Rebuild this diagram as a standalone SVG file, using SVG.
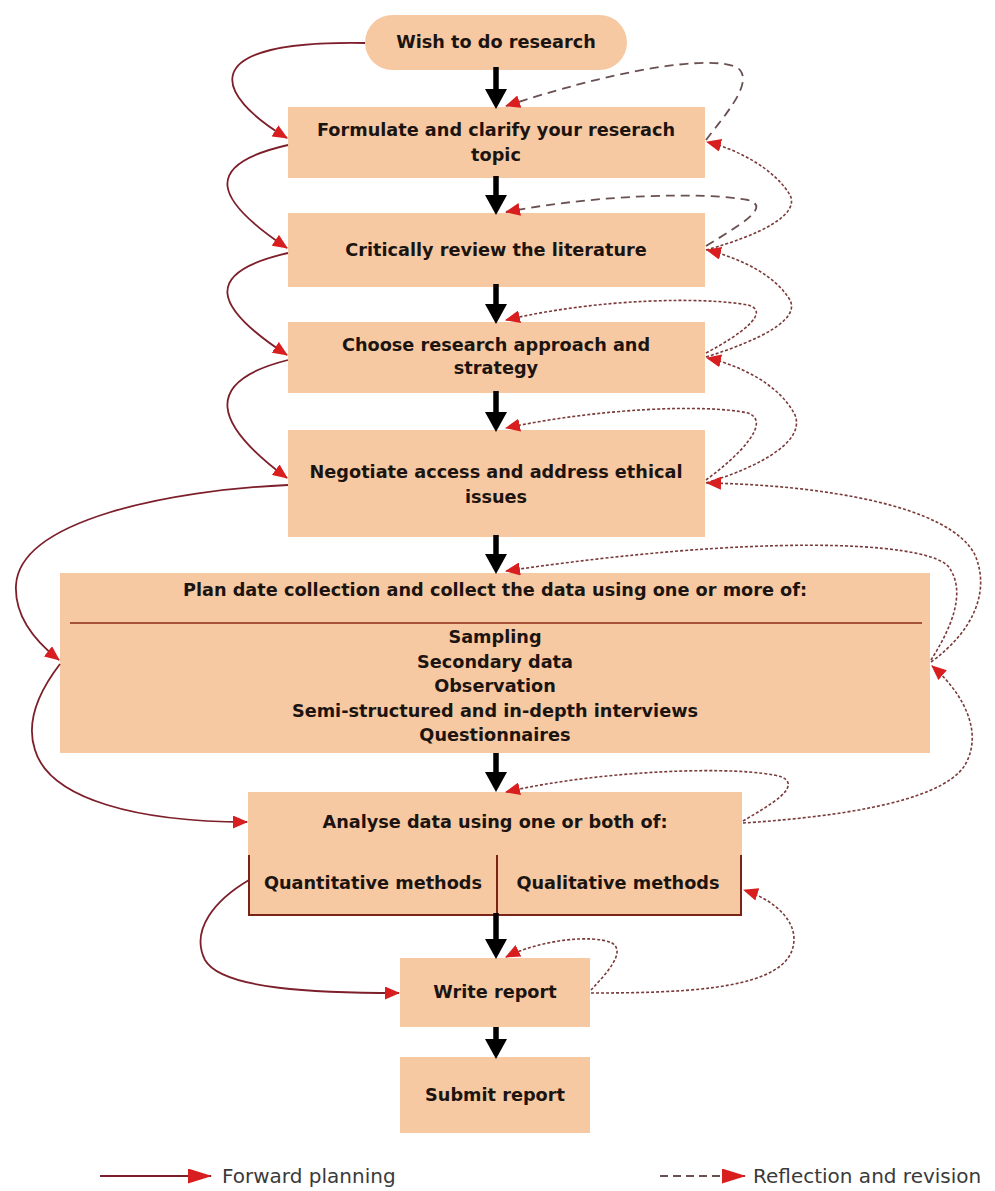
<svg xmlns="http://www.w3.org/2000/svg" width="995" height="1191" viewBox="0 0 995 1191">
<style>
.box{fill:#F7C9A2}
.t{font-family:"DejaVu Sans",Verdana,sans-serif;font-weight:bold;font-size:17.7px;fill:#1c1410;text-anchor:middle}
.lg{font-family:"DejaVu Sans",Verdana,sans-serif;font-size:20px;fill:#3a3a3a}
.brd{stroke:#7a2418;stroke-width:2;fill:none}
.main{stroke:#000;stroke-width:5.5;fill:none;marker-end:url(#blk)}
.fwd{stroke:#7d1f2a;stroke-width:1.8;fill:none;marker-end:url(#red)}
.ref{stroke:#7a3a3a;stroke-width:1.6;fill:none;stroke-dasharray:3 2;marker-end:url(#red)}
.refl{stroke:#6a5050;stroke-width:1.8;fill:none;stroke-dasharray:9 6;marker-end:url(#red)}
</style>
<defs>
<marker id="blk" markerUnits="userSpaceOnUse" markerWidth="22" markerHeight="22" viewBox="0 0 20 22" refX="6" refY="11" orient="auto"><path d="M0,0 L20,11 L0,22 z" fill="#000"/></marker>
<marker id="red" markerUnits="userSpaceOnUse" markerWidth="15" markerHeight="13" viewBox="0 0 15 13" refX="14" refY="6.5" orient="auto"><path d="M0,0 L15,6.5 L0,13 z" fill="#d81e1e"/></marker>
<marker id="redL" markerUnits="userSpaceOnUse" markerWidth="24" markerHeight="15" viewBox="0 0 24 15" refX="23" refY="7.5" orient="auto"><path d="M0,0 L24,7.5 L0,15 z" fill="#d81e1e"/></marker>
</defs>
<rect width="995" height="1191" fill="#fff"/>

<g id="n-wish"><rect class="box" x="365" y="15" width="262" height="55" rx="27.5"/><text class="t" x="496" y="48">Wish to do research</text></g>
<g id="n-formulate"><rect class="box" x="288" y="107" width="417" height="71"/><text class="t" x="496" y="136">Formulate and clarify your reserach</text><text class="t" x="496" y="161">topic</text></g>
<g id="n-review"><rect class="box" x="288" y="213" width="417" height="74"/><text class="t" x="496" y="256">Critically review the literature</text></g>
<g id="n-approach"><rect class="box" x="288" y="322" width="417" height="71"/><text class="t" x="496" y="351">Choose research approach and</text><text class="t" x="496" y="374">strategy</text></g>
<g id="n-negotiate"><rect class="box" x="288" y="430" width="417" height="107"/><text class="t" x="496" y="478">Negotiate access and address ethical</text><text class="t" x="496" y="503">issues</text></g>
<g id="n-collect"><rect class="box" x="60" y="573" width="870" height="180"/><text class="t" x="495" y="596">Plan date collection and collect the data using one or more of:</text><line x1="70" y1="623" x2="922" y2="623" stroke="#8a2a14" stroke-width="1.6"/><text class="t" x="495" y="643">Sampling</text><text class="t" x="495" y="668">Secondary data</text><text class="t" x="495" y="692">Observation</text><text class="t" x="495" y="717">Semi-structured and in-depth interviews</text><text class="t" x="495" y="741">Questionnaires</text></g>
<g id="n-analyse"><rect class="box" x="248" y="792" width="494" height="123"/><text class="t" x="495" y="828">Analyse data using one or both of:</text><path class="brd" d="M249,855 V915 H741 V855 M497,855 V915"/><text class="t" x="373" y="889">Quantitative methods</text><text class="t" x="618" y="889">Qualitative methods</text></g>
<g id="n-write"><rect class="box" x="400" y="958" width="190" height="69"/><text class="t" x="495" y="998">Write report</text></g>
<g id="n-submit"><rect class="box" x="400" y="1057" width="190" height="76"/><text class="t" x="495" y="1101">Submit report</text></g>

<g id="connectors">
<path class="main" d="M496,67 V95"/>
<path class="main" d="M496,176 V201"/>
<path class="main" d="M496,284 V310"/>
<path class="main" d="M496,391 V418"/>
<path class="main" d="M496,535 V560"/>
<path class="main" d="M496,753 V778"/>
<path class="main" d="M496,913 V945"/>
<path class="main" d="M496,1027 V1045"/>

<path class="fwd" d="M365,43 C190,40 215,95 287,138"/>
<path class="fwd" d="M288,145 C200,165 215,200 287,248"/>
<path class="fwd" d="M288,253 C200,273 215,308 287,355"/>
<path class="fwd" d="M288,360 C200,382 215,425 287,478"/>
<path class="fwd" d="M288,485 C170,490 20,520 16,585 C14,620 40,645 59,660"/>
<path class="fwd" d="M60,664 C40,690 25,720 35,750 C50,800 140,822 247,822"/>
<path class="fwd" d="M249,880 C215,900 190,930 205,960 C222,990 320,993 399,993"/>

<path class="refl" d="M706,140 C725,115 752,85 740,70 C726,55 640,62 506,106"/>
<path class="refl" d="M706,246 C740,225 772,207 748,200 C705,192 600,194 506,212"/>
<path class="ref" d="M706,353 C740,335 772,312 748,305 C705,297 600,298 506,320"/>
<path class="ref" d="M706,480 C740,455 772,422 748,413 C705,404 600,408 506,428"/>
<path class="ref" d="M931,660 C950,630 968,592 948,566 C922,540 750,535 506,571"/>
<path class="ref" d="M743,821 C770,805 802,787 782,777 C742,765 600,770 506,792"/>
<path class="ref" d="M591,990 C605,975 627,952 612,943 C592,934 540,940 506,957"/>

<path class="ref" d="M706,250 C760,235 800,215 790,195 C775,170 740,150 707,142"/>
<path class="ref" d="M706,357 C760,340 800,320 790,300 C775,275 740,258 707,250"/>
<path class="ref" d="M706,483 C765,465 805,440 795,415 C780,385 740,365 707,358"/>
<path class="ref" d="M931,662 C975,630 990,590 975,555 C950,505 820,485 707,483"/>
<path class="ref" d="M743,823 C820,818 940,805 965,765 C985,730 960,690 932,666"/>
<path class="ref" d="M591,993 C680,993 770,990 790,955 C805,925 775,900 744,890"/>
</g>

<g id="legend">
<path d="M100,1176 H211" stroke="#7d1f2a" stroke-width="2" fill="none" marker-end="url(#redL)"/>
<text class="lg" x="222" y="1183">Forward planning</text>
<path d="M660,1176 H745" stroke="#6a5050" stroke-width="1.8" fill="none" stroke-dasharray="8 5" marker-end="url(#redL)"/>
<text class="lg" x="753" y="1183">Reflection and revision</text>
</g>
</svg>
